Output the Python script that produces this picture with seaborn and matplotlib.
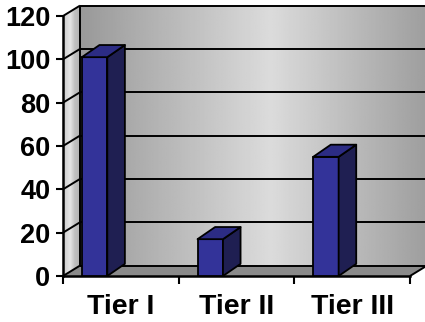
import numpy as np
import matplotlib
matplotlib.use("Agg")
import matplotlib.pyplot as plt
import seaborn as sns
import pandas as pd
from matplotlib.patches import Polygon
from matplotlib.ticker import FixedLocator

# Chart data
tiers = ["Tier I", "Tier II", "Tier III"]
counts = [101, 17, 55]
y_ticks = [0, 20, 40, 60, 80, 100, 120]

sns.set_theme(style="white")
plt.rcParams["font.family"] = ["Liberation Sans", "DejaVu Sans"]
plt.rcParams["font.weight"] = "bold"

fig = plt.figure(figsize=(4.25, 3.22), dpi=100)
ax = fig.add_axes([63 / 425, 46 / 322, 347 / 425, 260 / 322])
ax.patch.set_visible(False)

# Front-face bars drawn by seaborn
df = pd.DataFrame({"tier": tiers, "count": counts})
sns.barplot(data=df, x="tier", y="count", width=0.22, color="#333399",
            saturation=1, edgecolor="black", linewidth=1.3, ax=ax, zorder=3)
bars = list(ax.patches)

ax.set_xlim(-0.5, 2.5)
ax.set_ylim(0, 120)

# Oblique depth offsets (data units)
wall_dx, wall_dy = 0.147, 4.8
bar_dx, bar_dy = 0.152, 5.6
bar_shift = 0.227

x_lo, x_hi = -0.5, 2.5
y_top = y_ticks[-1]
bx0, bx1 = x_lo + wall_dx, x_hi + wall_dx

# Back wall with horizontal gray gradient
grad = np.interp(np.linspace(0, 1, 256), [0, 0.55, 1], [0.60, 0.86, 0.62])
ax.imshow(np.tile(grad, (2, 1)), cmap="gray", vmin=0, vmax=1,
          extent=(bx0, bx1, wall_dy, y_top + wall_dy), aspect="auto",
          interpolation="bilinear", zorder=0, clip_on=False)

# Left side wall, striped light gray
n_strip = 24
side_grad = np.interp(np.linspace(0, 1, n_strip), [0, 0.2, 0.45, 0.7, 1],
                      [0.78, 0.84, 0.90, 0.76, 0.70])
for i in range(n_strip):
    a = x_lo + wall_dx * i / n_strip
    b = x_lo + wall_dx * (i + 1) / n_strip
    ya = wall_dy * i / n_strip
    yb = wall_dy * (i + 1) / n_strip
    g = side_grad[i]
    ax.add_patch(Polygon([(a, ya), (b, yb), (b, y_top + yb), (a, y_top + ya)],
                         closed=True, facecolor=(g, g, g), edgecolor=(g, g, g),
                         lw=0.4, clip_on=False, zorder=0.5))

# Floor
ax.add_patch(Polygon([(x_lo, 0), (x_hi, 0), (x_hi + wall_dx, wall_dy),
                      (x_lo + wall_dx, wall_dy)], closed=True,
                     facecolor="#8a8a8a", edgecolor="none", clip_on=False,
                     zorder=1))

# Gridlines on back and side walls
line_kw = dict(color="black", lw=1.4, clip_on=False, zorder=1.5,
               solid_capstyle="butt")
for v in y_ticks:
    ax.plot([bx0, bx1], [v + wall_dy, v + wall_dy], **line_kw)
    ax.plot([x_lo, bx0], [v, v + wall_dy], **line_kw)
ax.plot([bx0, bx0], [wall_dy, y_top + wall_dy], **line_kw)
ax.plot([x_hi, bx1], [0, wall_dy], **line_kw)

# Side and top faces of the bars
for p in bars:
    p.set_x(p.get_x() - bar_shift)
    x, w, h = p.get_x(), p.get_width(), p.get_height()
    side = [(x + w, 0), (x + w + bar_dx, bar_dy),
            (x + w + bar_dx, h + bar_dy), (x + w, h)]
    top = [(x, h), (x + w, h), (x + w + bar_dx, h + bar_dy),
           (x + bar_dx, h + bar_dy)]
    ax.add_patch(Polygon(side, closed=True, facecolor="#1f1f52",
                         edgecolor="black", lw=1.3, zorder=3,
                         joinstyle="round"))
    ax.add_patch(Polygon(top, closed=True, facecolor="#2c2c84",
                         edgecolor="black", lw=1.3, zorder=3,
                         joinstyle="round"))

# Axes, ticks and labels
for s in ["top", "right"]:
    ax.spines[s].set_visible(False)
for s in ["left", "bottom"]:
    ax.spines[s].set_visible(True)
    ax.spines[s].set_color("black")
    ax.spines[s].set_linewidth(1.8)
    ax.spines[s].set_zorder(2)

ax.set_yticks(y_ticks)
ax.set_yticklabels([str(v) for v in y_ticks], fontsize=19.5, fontweight="bold")
ax.tick_params(axis="y", direction="out", length=5, width=1.5, pad=4,
               colors="black", left=True)

ax.set_xticks(range(len(tiers)))
ax.set_xticklabels(tiers, fontsize=20.5, fontweight="bold")
ax.xaxis.set_minor_locator(FixedLocator([-0.5, 0.5, 1.5, 2.5]))
ax.tick_params(axis="x", which="major", length=0, pad=13, colors="black")
ax.tick_params(axis="x", which="minor", direction="out", length=6, width=1.5,
               color="black", bottom=True)
ax.set_xlabel("")
ax.set_ylabel("")

fig.savefig("out.png", dpi=100, facecolor="white")
